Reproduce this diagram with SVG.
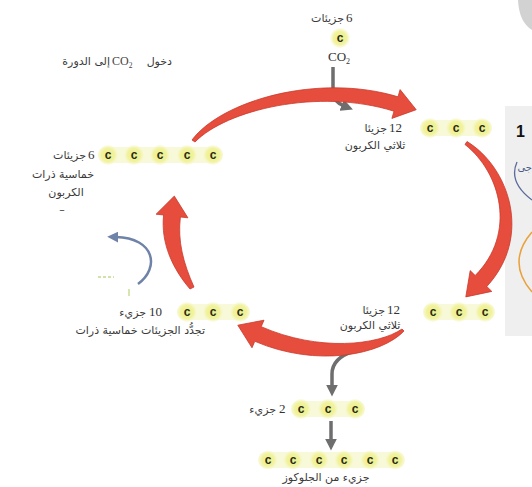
<svg xmlns="http://www.w3.org/2000/svg" width="532" height="487" viewBox="0 0 532 487">
<defs>
<radialGradient id="beadG" cx="50%" cy="50%" r="50%">
<stop offset="0%" stop-color="#eef08a"/>
<stop offset="65%" stop-color="#f1f29c"/>
<stop offset="100%" stop-color="#f7f8cc" stop-opacity="0.4"/>
</radialGradient>
<marker id="gArr" viewBox="0 0 10 10" refX="2" refY="5" markerWidth="12" markerHeight="12" markerUnits="userSpaceOnUse" orient="auto">
<path d="M0,0 L10,5 L0,10 z" fill="#6e6e6e"/>
</marker>
<marker id="bArr" viewBox="0 0 10 10" refX="2" refY="5" markerWidth="11" markerHeight="11" markerUnits="userSpaceOnUse" orient="auto">
<path d="M0,0 L10,5 L0,10 z" fill="#6f82a8"/>
</marker>
</defs>
<style>
.ar{font-family:"DejaVu Sans",sans-serif;font-size:11px;fill:#3a3a3a}
.num{font-family:"Liberation Serif",serif;font-size:13px;fill:#333}
.band{fill:#f5f6c8;opacity:0.7}
.bead{fill:url(#beadG)}
.c{font-family:"Liberation Sans",sans-serif;font-weight:bold;font-size:12px;fill:#2a2a1a;text-anchor:middle}
.red{fill:#e64d3d;stroke:#c93a2c;stroke-width:0.8}
.gline{fill:none;stroke:#6e6e6e;stroke-width:3.5}
</style>
<rect width="532" height="487" fill="#ffffff"/>
<!-- cropped neighbour panel at right edge -->
<g id="edge">
<path d="M518 0 Q519 22 532 30 L532 0 Z" fill="#d2d2d2"/>
<rect x="505" y="106" width="27" height="230" fill="#efefef"/>
<text x="516" y="137" font-family="Liberation Sans,sans-serif" font-weight="bold" font-size="16" fill="#111">1</text>
<text x="532" y="171" font-family="DejaVu Sans,sans-serif" font-size="10" fill="#4a5a8a" text-anchor="end">جى</text>
<path d="M517 162 Q508 182 532 200" fill="none" stroke="#5a6a9a" stroke-width="1.3"/>
<path d="M532 232 Q506 262 532 292" fill="none" stroke="#e9a23b" stroke-width="1.5"/>
</g>
<!-- connectors -->
<g id="connectors">
<path class="gline" d="M333 67 L333 92 Q334 102 344 106" marker-end="url(#gArr)"/>
<path class="gline" d="M354 351 Q332 358 332 374 L332 387" marker-end="url(#gArr)"/>
<path class="gline" d="M331 421 L331 441" marker-end="url(#gArr)"/>
<path d="M138 284 C160 268 155 238 116 237" fill="none" stroke="#6f82a8" stroke-width="2.5" marker-end="url(#bArr)"/>
<path d="M98 277 L114 277" stroke="#cfe3a6" stroke-width="2" stroke-dasharray="3 2"/>
<path d="M129 289 L129 296" stroke="#d6e6b0" stroke-width="2"/>
<path id="arcTop" class="red" d="M192 140 C221 101 317.8 72.5 398 96.8 L400.1 89.6 L416.2 109.7 L391.9 118.4 L394 111.2 C318.2 87.5 226 110 195 142 Z"/>
<path id="arcRight" class="red" d="M467 141.5 C509.2 167.3 532.8 236.7 486.8 286.5 L491.8 291.4 L465.8 296.9 L470.2 270.6 L475.2 275.5 C517.2 233.3 500.8 172.7 465 144.5 Z"/>
<path id="arcBottom" class="red" d="M404 331 C381.7 354.7 317 368 254.8 341.3 L252 347.8 L237.8 325.2 L264 320.2 L261.2 326.7 C319 352 378.3 345.3 402 329 Z"/>
<path id="arcLeft" class="red" d="M190 289 C172.6 268.7 160.6 243 163.6 215 L156.1 214.2 L174.3 196.1 L187.9 217.8 L180.4 217 C177.4 241 183.4 263.3 194 287 Z"/>
</g>
<!-- CO2 input -->
<g id="co2">
<text class="ar" x="344" y="22" text-anchor="end">جزيئات</text>
<text class="num" x="346" y="22">6</text>
<circle class="bead" cx="340" cy="38" r="10"/>
<text class="c" x="340" y="42">c</text>
<text x="339" y="61" font-family="Liberation Serif,serif" font-size="13" fill="#333" text-anchor="middle">CO<tspan font-size="8" dy="3">2</tspan></text>
</g>
<g id="entry">
<text class="ar" x="110" y="65" text-anchor="end">إلى الدورة</text>
<text x="112" y="65" font-family="Liberation Serif,serif" font-size="12" fill="#444">CO<tspan font-size="7.5" dy="3">2</tspan></text>
<text class="ar" x="172" y="65" text-anchor="end">دخول</text>
</g>
<!-- top right: 12 three-carbon -->
<g id="pga">
<rect class="band" x="420" y="120" width="72" height="16" rx="8"/>
<circle class="bead" cx="430" cy="128" r="10"/>
<circle class="bead" cx="456" cy="128" r="10"/>
<circle class="bead" cx="482" cy="128" r="10"/>
<text class="c" x="430" y="132">c</text>
<text class="c" x="456" y="132">c</text>
<text class="c" x="482" y="132">c</text>
<text class="ar" x="387" y="132" text-anchor="end">جزيئا</text>
<text class="num" x="389" y="132">12</text>
<text class="ar" x="375" y="149" text-anchor="middle">ثلاثي الكربون</text>
</g>
<!-- bottom right: 12 three-carbon -->
<g id="g3p">
<rect class="band" x="423" y="304" width="72" height="16" rx="8"/>
<circle class="bead" cx="433" cy="312" r="10"/>
<circle class="bead" cx="459" cy="312" r="10"/>
<circle class="bead" cx="485" cy="312" r="10"/>
<text class="c" x="433" y="316">c</text>
<text class="c" x="459" y="316">c</text>
<text class="c" x="485" y="316">c</text>
<text class="ar" x="385" y="314" text-anchor="end">جزيئا</text>
<text class="num" x="387" y="314">12</text>
<text class="ar" x="370" y="329" text-anchor="middle">ثلاثي الكربون</text>
</g>
<!-- bottom left: 10 molecules -->
<g id="ten">
<rect class="band" x="177" y="304" width="73" height="16" rx="8"/>
<circle class="bead" cx="187" cy="312" r="10"/>
<circle class="bead" cx="213" cy="312" r="10"/>
<circle class="bead" cx="240" cy="312" r="10"/>
<text class="c" x="187" y="316">c</text>
<text class="c" x="213" y="316">c</text>
<text class="c" x="240" y="316">c</text>
<text class="ar" x="146" y="316" text-anchor="end">جزيء</text>
<text class="num" x="149" y="316">10</text>
<text class="ar" x="205" y="334" text-anchor="end" fill="#5a3f33">تجدُّد الجزيئات خماسية ذرات</text>
</g>
<!-- left: 6 five-carbon -->
<g id="rubp">
<rect class="band" x="98" y="147" width="125" height="16" rx="8"/>
<circle class="bead" cx="108" cy="155" r="10"/>
<circle class="bead" cx="134" cy="155" r="10"/>
<circle class="bead" cx="160" cy="155" r="10"/>
<circle class="bead" cx="187" cy="155" r="10"/>
<circle class="bead" cx="213" cy="155" r="10"/>
<text class="c" x="108" y="159">c</text>
<text class="c" x="134" y="159">c</text>
<text class="c" x="160" y="159">c</text>
<text class="c" x="187" y="159">c</text>
<text class="c" x="213" y="159">c</text>
<text class="ar" x="86" y="159" text-anchor="end">جزيئات</text>
<text class="num" x="88" y="159">6</text>
<text class="ar" x="63" y="178" text-anchor="middle">خماسية ذرات</text>
<text class="ar" x="66" y="196" text-anchor="middle">الكربون</text>
<text class="ar" x="62" y="213" text-anchor="middle">–</text>
</g>
<!-- output 2 molecules -->
<g id="two">
<rect class="band" x="291" y="401" width="74" height="16" rx="8"/>
<circle class="bead" cx="301" cy="409" r="10"/>
<circle class="bead" cx="328" cy="409" r="10"/>
<circle class="bead" cx="355" cy="409" r="10"/>
<text class="c" x="301" y="413">c</text>
<text class="c" x="328" y="413">c</text>
<text class="c" x="355" y="413">c</text>
<text class="ar" x="276" y="413" text-anchor="end">جزيء</text>
<text class="num" x="279" y="413">2</text>
</g>
<!-- glucose -->
<g id="glucose">
<rect class="band" x="258" y="452" width="147" height="16" rx="8"/>
<circle class="bead" cx="268" cy="460" r="9.5"/>
<circle class="bead" cx="293" cy="460" r="9.5"/>
<circle class="bead" cx="319" cy="460" r="9.5"/>
<circle class="bead" cx="344" cy="460" r="9.5"/>
<circle class="bead" cx="370" cy="460" r="9.5"/>
<circle class="bead" cx="395" cy="460" r="9.5"/>
<text class="c" x="268" y="464">c</text>
<text class="c" x="293" y="464">c</text>
<text class="c" x="319" y="464">c</text>
<text class="c" x="344" y="464">c</text>
<text class="c" x="370" y="464">c</text>
<text class="c" x="395" y="464">c</text>
<text class="ar" x="326" y="481" text-anchor="middle">جزيء من الجلوكوز</text>
</g>
</svg>
